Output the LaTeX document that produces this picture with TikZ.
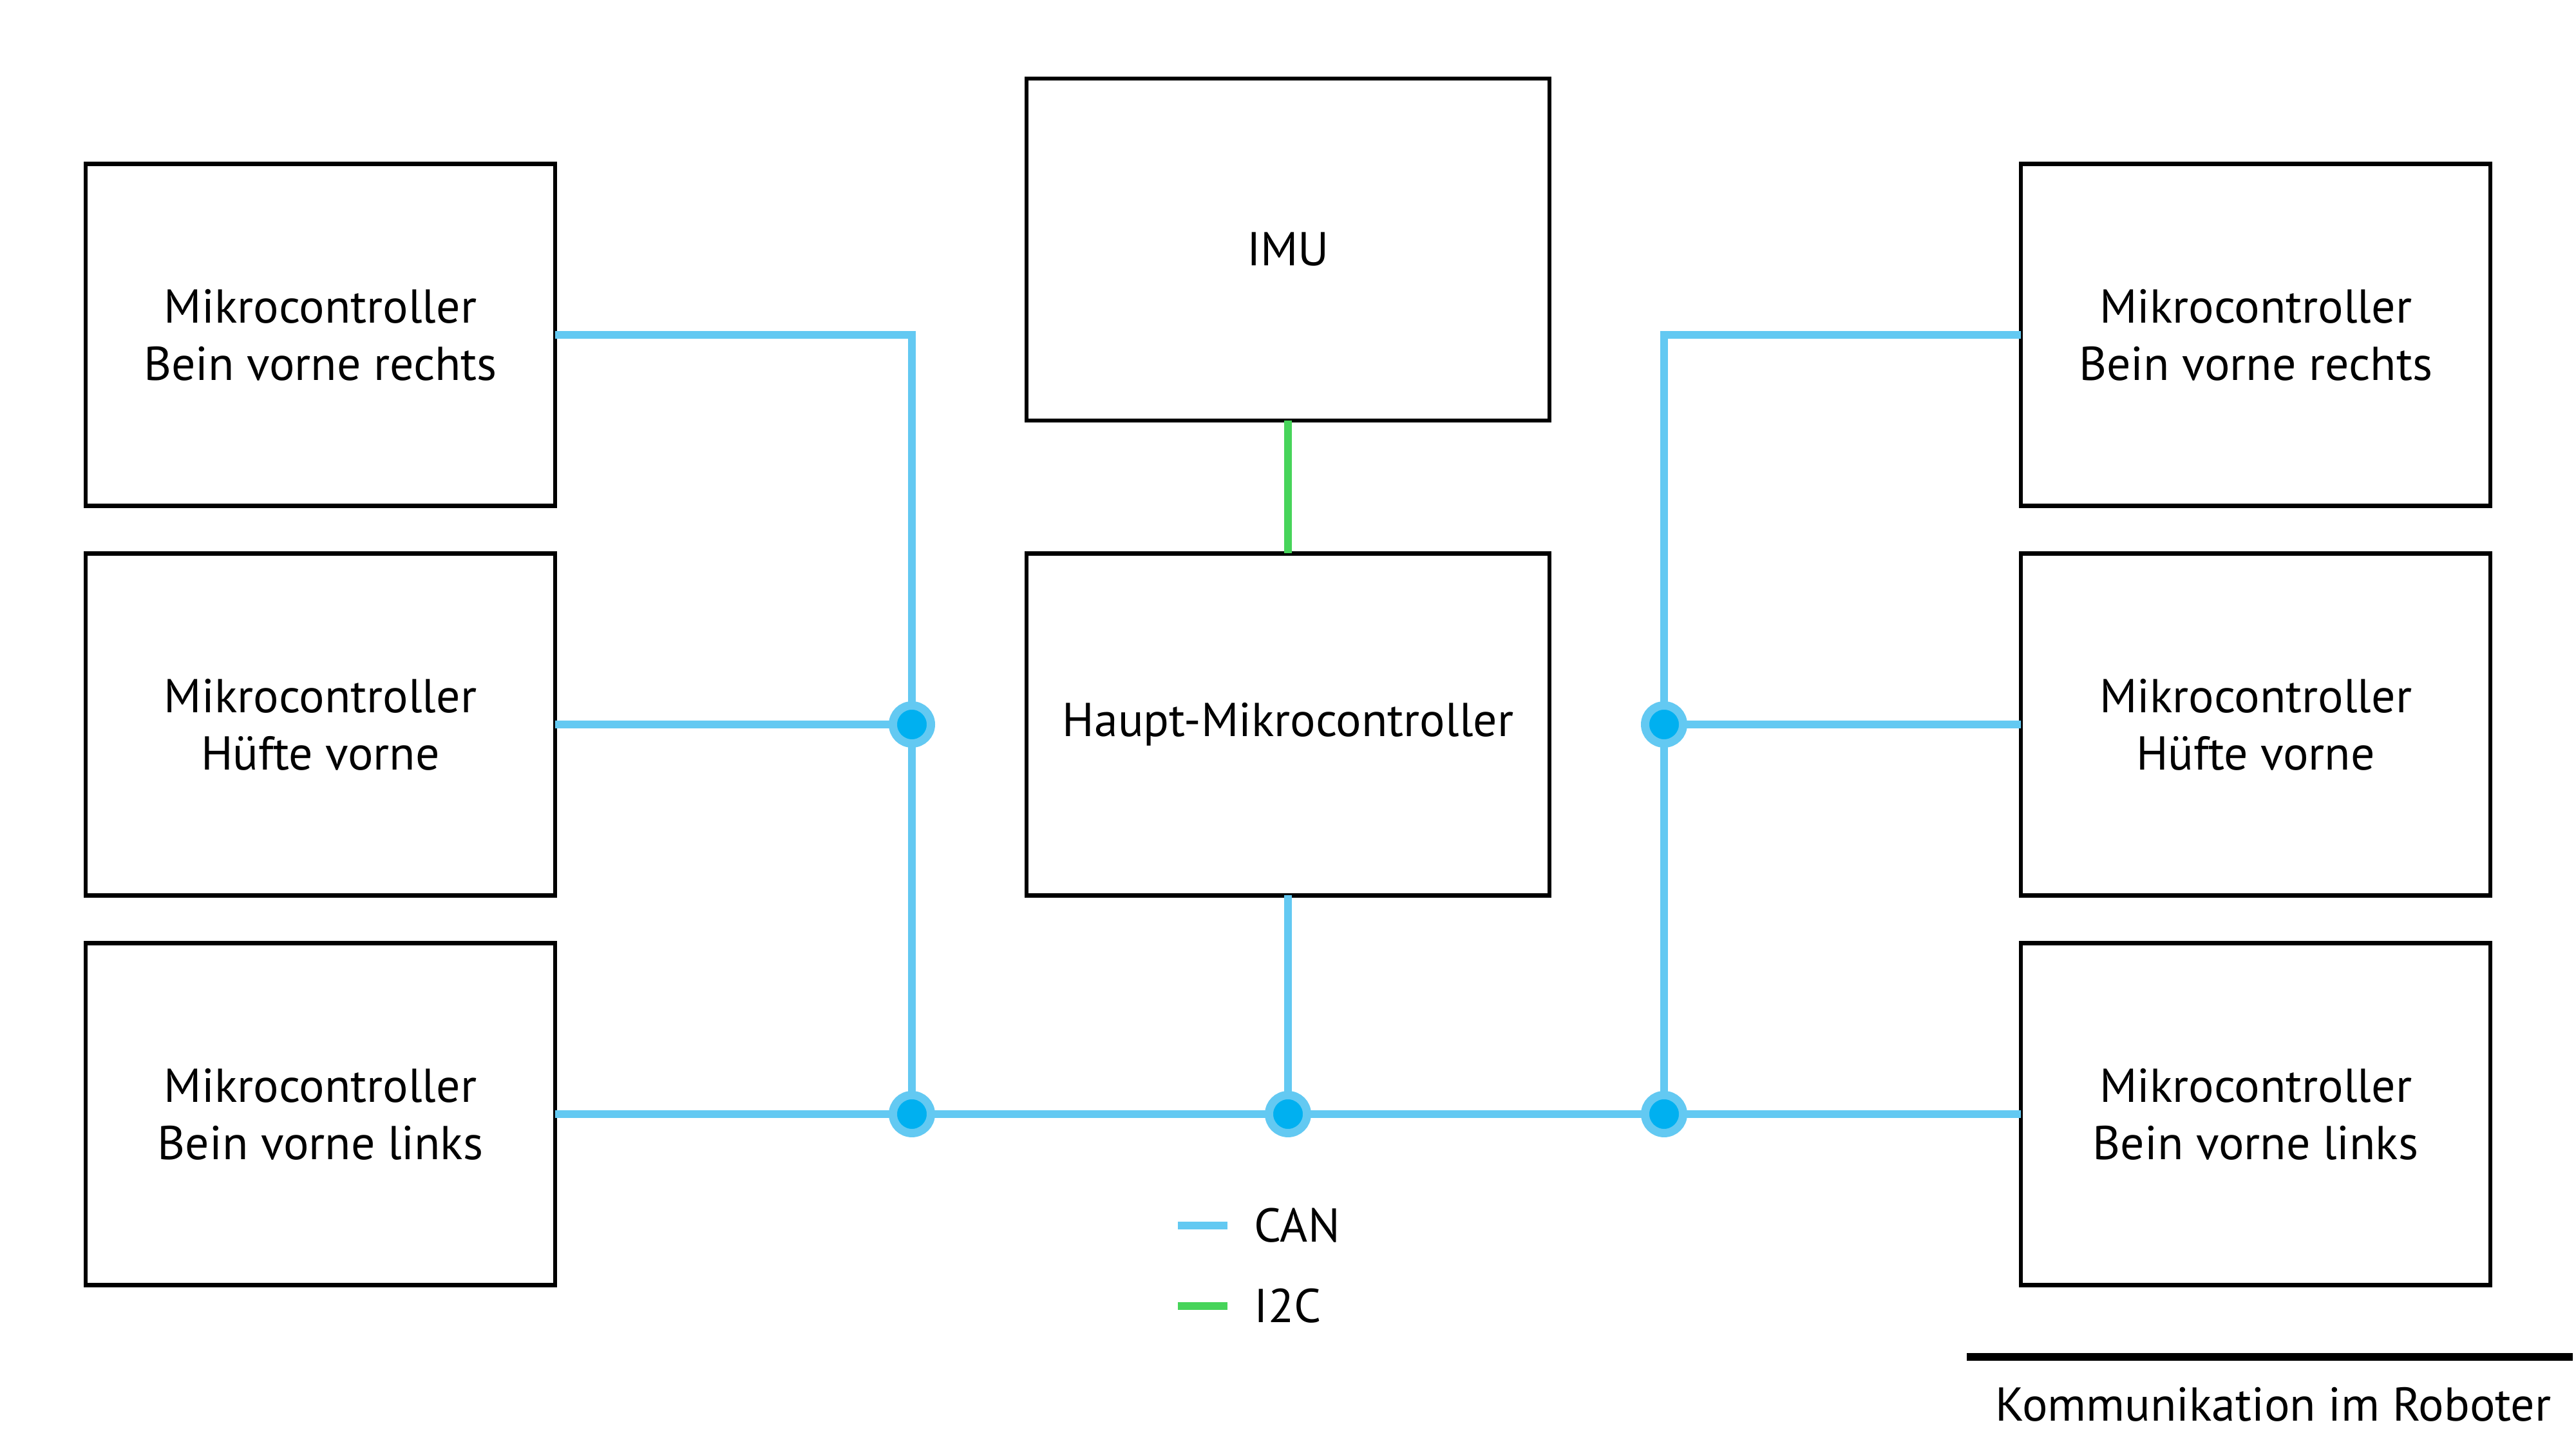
\documentclass[tikz,border=0pt]{standalone}
\usepackage{fontspec}
\setmainfont{PT Sans}
\usepackage{tikz}
\usetikzlibrary{
  positioning,
  calc
}
\definecolor{CanBlue}{RGB}{99,201,242}
\definecolor{DotBlue}{RGB}{0,176,240}
\definecolor{IicGreen}{RGB}{71,212,90}
\tikzset{
  mcbox/.style={draw=black,line width=1.9pt,outer sep=0pt,fill=white,minimum width=7.29cm,minimum height=5.31cm,align=center,font=\fontsize{21}{25.3}\selectfont},
  canline/.style={draw=CanBlue,line width=0.12cm},
  iicline/.style={draw=IicGreen,line width=0.12cm},
  junction/.style={circle,draw=CanBlue,fill=DotBlue,line width=0.13cm,minimum size=0.59cm,inner sep=0pt},
  legendtext/.style={anchor=west,inner sep=0pt,font=\fontsize{21}{25.3}\selectfont}
}
\begin{document}
\begin{tikzpicture}
\useasboundingbox (0,0) rectangle (40,22.5);

% linke Seite
\node[mcbox] (lf1) at (4.975,17.30) {Mikrocontroller\\Bein vorne rechts};
\node[mcbox, below=0.74cm of lf1] (lf2) {Mikrocontroller\\Hüfte vorne};
\node[mcbox, below=0.74cm of lf2] (lf3) {Mikrocontroller\\Bein vorne links};

% Mitte
\node[mcbox, minimum width=8.12cm] (imu) at (20,18.625) {IMU};
\node[mcbox, minimum width=8.12cm] (haupt) at (20,11.25) {Haupt-Mikrocontroller};

% rechte Seite
\node[mcbox] (rf1) at (35.025,17.30) {Mikrocontroller\\Bein vorne rechts};
\node[mcbox, below=0.74cm of rf1] (rf2) {Mikrocontroller\\Hüfte vorne};
\node[mcbox, below=0.74cm of rf2] (rf3) {Mikrocontroller\\Bein vorne links};

% Knoten am Bus
\coordinate (jl1) at (14.16,11.25);
\coordinate (jl2) at (14.16,5.20);
\coordinate (jc) at (20,5.20);
\coordinate (jr2) at (25.84,5.20);
\coordinate (jr1) at (25.84,11.25);

\draw[canline] (lf1.east) -| (jl2);
\draw[canline] (lf2.east) -- (jl1);
\draw[canline] (lf3.east) -- (rf3.west);
\draw[canline] (haupt.south) -- (jc);
\draw[canline] (rf1.west) -| (jr2);
\draw[canline] (rf2.west) -- (jr1);
\draw[iicline] (imu.south) -- (haupt.north);

\foreach \j in {jl1,jl2,jc,jr2,jr1}
  \node[junction] (dot-\j) at (\j) {};

% Legende
\coordinate (canA) at (18.29,3.47);
\coordinate (canB) at (19.06,3.47);
\coordinate (iicA) at (18.29,2.22);
\coordinate (iicB) at (19.06,2.22);
\draw[canline] (canA) -- (canB);
\draw[iicline] (iicA) -- (iicB);
\node[legendtext] (cantext) at (19.47,3.47) {CAN};
\node[legendtext] (iictext) at (19.47,2.22) {I2C};

% Titel
\coordinate (ruleA) at (30.54,1.43);
\coordinate (ruleB) at (39.95,1.43);
\draw[line width=0.12cm] (ruleA) -- (ruleB);
\node[font=\fontsize{21}{25.3}\selectfont] (title) at (35.30,0.69) {Kommunikation im Roboter};
\end{tikzpicture}
\end{document}
